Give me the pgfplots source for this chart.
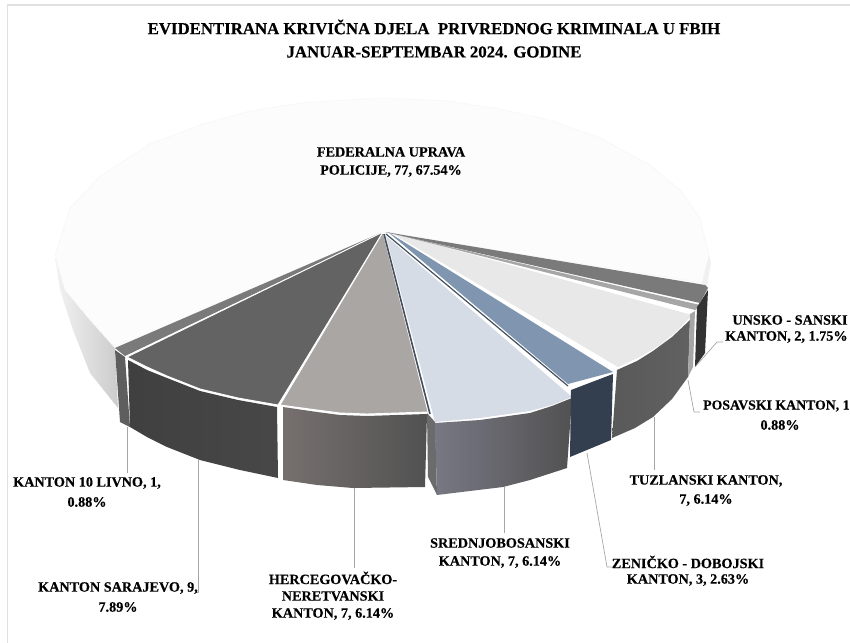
\documentclass[border=0pt]{standalone}
\usepackage{pgfplots}
\pgfplotsset{compat=1.18}
\usepackage{fontspec}
\setmainfont[BoldFeatures={FakeBold=0.35}]{Liberation Serif}
\definecolor{frame}{HTML}{E0E0E0}
\definecolor{lead}{HTML}{A6A6A6}
\definecolor{fuptop}{HTML}{FCFCFC}
\definecolor{fupedge}{HTML}{F3F3F3}
\tikzset{lab/.style={font=\fontsize{14.2}{16}\selectfont\bfseries,inner sep=0pt,text=black,anchor=center},
  ttl/.style={font=\fontsize{16.8}{18}\selectfont\bfseries,inner sep=0pt,text=black,anchor=center}}
\begin{document}
\begin{tikzpicture}
\useasboundingbox (0,0) rectangle (850pt,642pt);
\clip (0,0) rectangle (850pt,642pt);
\begin{axis}[anchor=south west,at={(0,0)},scale only axis,width=850pt,height=642pt,
  xmin=0,xmax=850,ymin=0,ymax=642,y dir=reverse,hide axis,clip=false,no marks,
  every axis plot/.append style={line join=round}]
% frame
\addplot[draw=frame,line width=1.2pt] coordinates {(7.5,650)(7.5,5)(870,5)};
% FUP wall
\addplot[left color=black!5,right color=black!20,draw=none] coordinates {(55,257)(65,290)(90,320)(115,348)(118,408)(90,373)(73,330)(60,290)} --cycle;
\addplot[fill=black!6,draw=none] coordinates {(709,255)(711,262)(707,287)(702,283)} --cycle;
% FUP top
\addplot[fill=fuptop,draw=fupedge,line width=0.8pt,densely dotted] coordinates {(383,232)(702,283)(707,262)(709,255)(700,218)(680,190)(650,165)(600,138)(550,120)(500,109)(450,101)(380,98)(300,103)(250,111)(200,125)(150,144)(100,176)(70,208)(55,255)(65,290)(90,320)(115,348)} --cycle;
% Kanton 10
\addplot[fill=black!63,draw=none] coordinates {(115,350)(125,357)(130,427)(120,422)} --cycle;
\addplot[fill=black!52,draw=none] coordinates {(383,232)(115,348)(125,356)} --cycle;
% Sarajevo side and top
\addplot[left color=black!75,right color=black!72,draw=none] coordinates {(128,360)(147,370)(167,378)(200,391)(238,400)(277,407)(278,478)(240,470)(200,460)(167,447)(147,437)(130,427)} --cycle;
\addplot[fill=black!61,draw=white,line width=0.9pt] coordinates {(383,232)(127,357)(147,367)(167,376)(200,389)(238,398)(278,405)} --cycle;
% Hercegovacko side and top
\addplot[left color={rgb,255:red,118;green,112;blue,110},right color=black!68,draw=none] coordinates {(283,407)(317,412)(340,415)(367,416)(427,414)(425,487)(353,488)(317,485)(283,480)} --cycle;
\addplot[fill={rgb,255:red,170;green,166;blue,164},draw=white,line width=0.9pt] coordinates {(383,232)(280,405)(317,410)(340,413)(367,414)(428,412)} --cycle;
% Srednjobosanski inner, side, top
\addplot[fill=black!58,draw=none] coordinates {(427,413)(435,422)(437,495)(428,477)} --cycle;
\addplot[left color={rgb,255:red,120;green,120;blue,132},right color=black!68,draw=none] coordinates {(435,423)(480,420)(530,413)(552,406)(572,398)(567,468)(530,480)(503,487)(470,491)(437,495)} --cycle;
\addplot[fill={rgb,255:red,213;green,220;blue,229},draw=none] coordinates {(386,236)(572,397)(552,405)(530,411)(480,418)(435,422)} --cycle;
\addplot[draw={rgb,255:red,68;green,80;blue,94},line width=1.6pt] coordinates {(384,234)(430,414)};
\addplot[draw={rgb,255:red,68;green,80;blue,94},line width=1.2pt] coordinates {(386,234)(568,386)};
% Zenicko side, top
\addplot[fill={rgb,255:red,51;green,63;blue,79},draw=none] coordinates {(571,390)(613,374)(611,440)(570,457)} --cycle;
\addplot[fill={rgb,255:red,128;green,150;blue,176},draw=none] coordinates {(388,232)(613,372)(568,384)} --cycle;
% Tuzlanski side, top
\addplot[left color=black!65,right color=black!62,draw=none] coordinates {(617,370)(637,361)(653,351)(672,337)(690,320)(688,377)(672,399)(653,417)(635,428)(612,438)} --cycle;
\addplot[fill=black!9,draw=none] coordinates {(390,232)(692,315)(677,331)(660,345)(640,357)(618,367)} --cycle;
% Posavski side, top
\addplot[fill=black!35,draw=none] coordinates {(690,314)(695,311)(693,367)(688,377)} --cycle;
\addplot[fill=black!35,draw=none] coordinates {(386,232)(700,305)(695,310)} --cycle;
% Unsko side, top
\addplot[fill=black!80,draw=none] coordinates {(697,307)(708,290)(705,353)(695,367)} --cycle;
\addplot[fill=black!52,draw=none] coordinates {(385,232)(705,285)(708,288)(700,303)} --cycle;
% leader lines
\addplot[draw=lead,line width=0.7pt] coordinates {(127,427)(127,473)};
\addplot[draw=lead,line width=0.7pt] coordinates {(198,460)(198,592)(196,592)};
\addplot[draw=lead,line width=0.7pt] coordinates {(354,488)(354,568)};
\addplot[draw=lead,line width=0.7pt] coordinates {(504,487)(504,533)};
\addplot[draw=lead,line width=0.7pt] coordinates {(587,453)(607,567)(613,567)};
\addplot[draw=lead,line width=0.7pt] coordinates {(654,417)(654,470)};
\addplot[draw=lead,line width=0.7pt] coordinates {(688,380)(694,412)(700,412)};
\addplot[draw=lead,line width=0.7pt] coordinates {(695,367)(717,342)(723,342)};
% text
\node[ttl] at (axis cs:434,27) {EVIDENTIRANA KRIVIČNA DJELA\ \ PRIVREDNOG KRIMINALA U FBIH};
\node[ttl] at (axis cs:434,52) {JANUAR-SEPTEMBAR 2024. GODINE};
\node[lab] at (axis cs:391,152) {FEDERALNA UPRAVA};
\node[lab] at (axis cs:391,171) {POLICIJE, 77, 67.54\%};
\node[lab] at (axis cs:87,483) {KANTON 10 LIVNO, 1,};
\node[lab] at (axis cs:87,502) {0.88\%};
\node[lab] at (axis cs:118,588) {KANTON SARAJEVO, 9,};
\node[lab] at (axis cs:118,607) {7.89\%};
\node[lab] at (axis cs:333,578) {HERCEGOVAČKO-};
\node[lab] at (axis cs:333,596) {NERETVANSKI};
\node[lab] at (axis cs:333,614) {KANTON, 7, 6.14\%};
\node[lab] at (axis cs:500,543) {SREDNJOBOSANSKI};
\node[lab] at (axis cs:500,562) {KANTON, 7, 6.14\%};
\node[lab] at (axis cs:688,562) {ZENIČKO - DOBOJSKI};
\node[lab] at (axis cs:688,580) {KANTON, 3, 2.63\%};
\node[lab] at (axis cs:706,481) {TUZLANSKI KANTON,};
\node[lab] at (axis cs:706,500) {7, 6.14\%};
\node[lab,anchor=west,font=\fontsize{13.8}{16}\selectfont\bfseries] at (axis cs:703,406) {POSAVSKI KANTON, 1};
\node[lab] at (axis cs:780,425) {0.88\%};
\node[lab] at (axis cs:790,320) {UNSKO - SANSKI};
\node[lab,anchor=west] at (axis cs:725,337) {KANTON, 2, 1.75\%};
\end{axis}
\end{tikzpicture}
\end{document}
